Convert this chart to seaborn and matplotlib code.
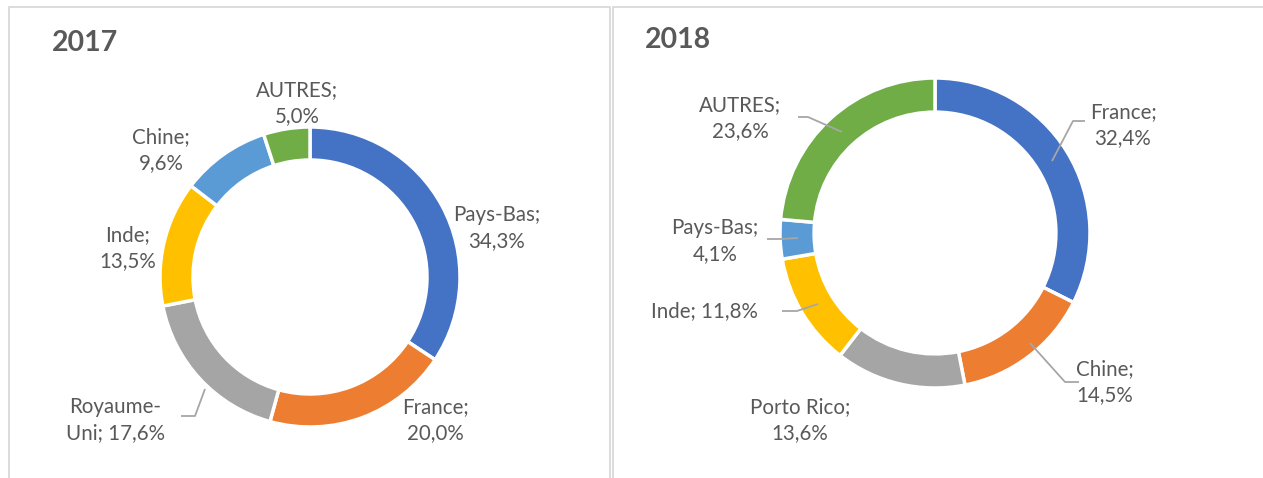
import matplotlib
matplotlib.use("Agg")
import matplotlib.pyplot as plt
import seaborn as sns

# Donnees
pays_2017 = ["Pays-Bas", "France", "Royaume-\nUni", "Inde", "Chine", "AUTRES"]
parts_2017 = [34.3, 20.0, 17.6, 13.5, 9.6, 5.0]

pays_2018 = ["France", "Chine", "Porto Rico", "Inde", "Pays-Bas", "AUTRES"]
parts_2018 = [32.4, 14.5, 13.6, 11.8, 4.1, 23.6]

couleurs = ["#4472C4", "#ED7D31", "#A5A5A5", "#FFC000", "#5B9BD5", "#70AD47"]

# Mise en page (pixels de l'image, y vers le haut)
W, H = 1263, 478
texte_2017 = [(497, 228, True), (435, 420, True), (115, 420, False), (128, 248, True), (161, 150, True), (297, 103, True)]
texte_2018 = [(1123, 125, True), (1105, 382, True), (800, 420, True), (704, 311, False), (715, 241, True), (740, 118, True)]
guides_2017 = [None, None, [(181, 416), (195, 416), (205, 389)], None, None, None]
guides_2018 = [[(1085, 121), (1073, 121), (1052, 161)],
               [(1079, 382), (1065, 382), (1030, 343)],
               None,
               [(782, 311), (797, 311), (818, 304)],
               [(767, 239), (780, 239), (798, 238)],
               [(798, 117), (808, 117), (842, 132)]]

sns.set_theme(style="white")
plt.rcParams['font.family'] = ['Lato', 'DejaVu Sans']

fig = plt.figure(figsize=(W / 100, H / 100), dpi=100)
ax = fig.add_axes([0, 0, 1, 1])


def donut(noms, valeurs, centre, rayon, textes, guides):
    ax.pie(valeurs, colors=couleurs, startangle=90, counterclock=False,
           center=(centre[0], H - centre[1]), radius=rayon,
           wedgeprops=dict(width=rayon * 0.22, edgecolor="white", linewidth=2.5))
    for nom, val, (x, y, deux_lignes), guide in zip(noms, valeurs, textes, guides):
        val_txt = f"{val:.1f}%".replace(".", ",")
        sep = ";\n" if deux_lignes else "; "
        ax.text(x, H - y, nom + sep + val_txt, ha="center", va="center",
                fontsize=14.8, color="#595959", linespacing=1.35)
        if guide:
            ax.plot([p[0] for p in guide], [H - p[1] for p in guide],
                    color="#A6A6A6", lw=1.3, solid_capstyle="butt")


donut(pays_2017, parts_2017, (310, 277), 150, texte_2017, guides_2017)
donut(pays_2018, parts_2018, (935, 233), 155, texte_2018, guides_2018)

# Titres
ax.text(52, H - 43, "2017", fontsize=20.5, fontweight="bold", color="#595959", va="center")
ax.text(645, H - 40, "2018", fontsize=20.5, fontweight="bold", color="#595959", va="center")

# Cadres des deux graphiques
bord = "#D9D9D9"
ax.plot([9, 9, 610, 610], [0, H - 7, H - 7, 0], color=bord, lw=1.3)
ax.plot([613, 613, W], [0, H - 7, H - 7], color=bord, lw=1.3)

ax.set_xlim(0, W)
ax.set_ylim(0, H)
ax.set_aspect("equal")
ax.axis("off")

fig.savefig("out.png", dpi=100, facecolor="white")
